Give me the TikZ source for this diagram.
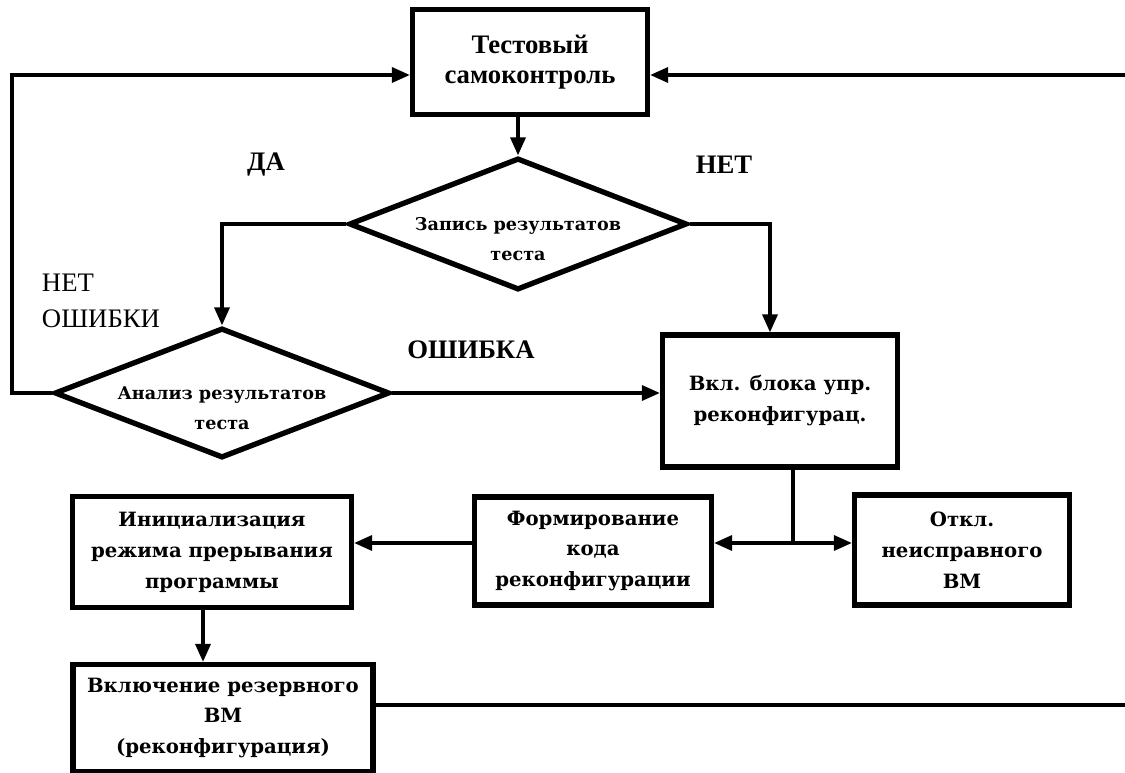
\documentclass[tikz,border=0pt]{standalone}
\usepackage{fontspec}
\setmainfont{Liberation Serif}
\newfontfamily\boxfont{DejaVu Serif}
\usetikzlibrary{shapes.geometric, arrows.meta, positioning, calc}
% text of a diamond, set a little below its centre
\newcommand{\lowtext}[1]{\raisebox{-14pt}[0pt][0pt]{\begin{tabular}{@{}c@{}}#1\end{tabular}}}

\begin{document}
\begin{tikzpicture}[
    x=0.025cm, y=-0.025cm,
    block/.style={rectangle, draw=black, line width=3.8pt, fill=white, align=center, inner sep=2pt, font=\boxfont\bfseries\fontsize{14}{22}\selectfont},
    decision/.style={diamond, draw=black, line width=3.8pt, fill=white, inner sep=0pt, shape aspect=2.56, font=\boxfont\bfseries\fontsize{12.5}{21}\selectfont},
    arrow/.style={-{Triangle[length=4.5mm, width=3.8mm]}, line width=2.2pt},
    line/.style={line width=2.2pt},
    lbl/.style={font=\bfseries\fontsize{19}{24}\selectfont, align=left}
]
\useasboundingbox (0,0) rectangle (1125,773);

% Blocks
\node[block, minimum width=5.875cm, minimum height=2.625cm, font=\bfseries\fontsize{19}{21.5}\selectfont] (test) at (530,62) {Тестовый\\самоконтроль};
\node[decision, minimum width=8.45cm, minimum height=3.3cm] (rec) at (518,224) {\lowtext{Запись результатов\\теста}};
\node[decision, minimum width=8.375cm, minimum height=3.25cm] (anl) at (222,393) {\lowtext{Анализ результатов\\теста}};
\node[block, minimum width=5.875cm, minimum height=3.3cm] (cfg) at (780,401) {Вкл. блока упр.\\реконфигурац.};
\node[block, minimum width=5.925cm, minimum height=2.7cm] (form) at (593,551) {Формирование\\кода\\реконфигурации};
\node[block, minimum width=5.375cm, minimum height=2.75cm] (off) at (962,550) {Откл.\\неисправного\\ВМ};
\node[block, minimum width=6.975cm, minimum height=2.775cm] (init) at (212,552) {Инициализация\\режима прерывания\\программы};
\node[block, minimum width=7.5cm, minimum height=2.675cm] (incl) at (223,718) {Включение резервного\\ВМ\\(реконфигурация)};

% Free ends
\coordinate (ltop) at (12,75);
\coordinate (rtop) at (1125,75);
\coordinate (rbot) at (1125,705);
\coordinate (split) at (793,543);

% Labels
\node[lbl] (yes) at (266,165) {ДА};
\node[lbl] (no) at (724,165) {НЕТ};
\node[lbl, font=\fontsize{19}{26}\selectfont, anchor=west] (noerr) at (37,301) {НЕТ\\ОШИБКИ};
\node[lbl] (err) at (471,350) {ОШИБКА};

% Connectors
\draw[arrow] (test.south -| rec.north) -- (rec.north);
\draw[arrow] (rec.west) -| (anl.north);
\draw[arrow] (rec.east) -| ([xshift=-0.25cm]cfg.north);
\draw[arrow] (anl.east) -- (anl.east -| cfg.west);
\draw[arrow] (anl.west) -| (ltop) -- (ltop -| test.west);
\draw[arrow] (rtop) -- (rtop -| test.east);
\draw[line] (cfg.south -| split) -- (split);
\draw[arrow] (split) -- (split -| form.east);
\draw[arrow] (split) -- (split -| off.west);
\draw[arrow] (form.west |- split) -- (split -| init.east);
\draw[arrow] ([xshift=-0.225cm]init.south) -- ([xshift=-0.225cm]init.south |- incl.north);
\draw[line] (incl.east |- rbot) -- (rbot);

\end{tikzpicture}
\end{document}
